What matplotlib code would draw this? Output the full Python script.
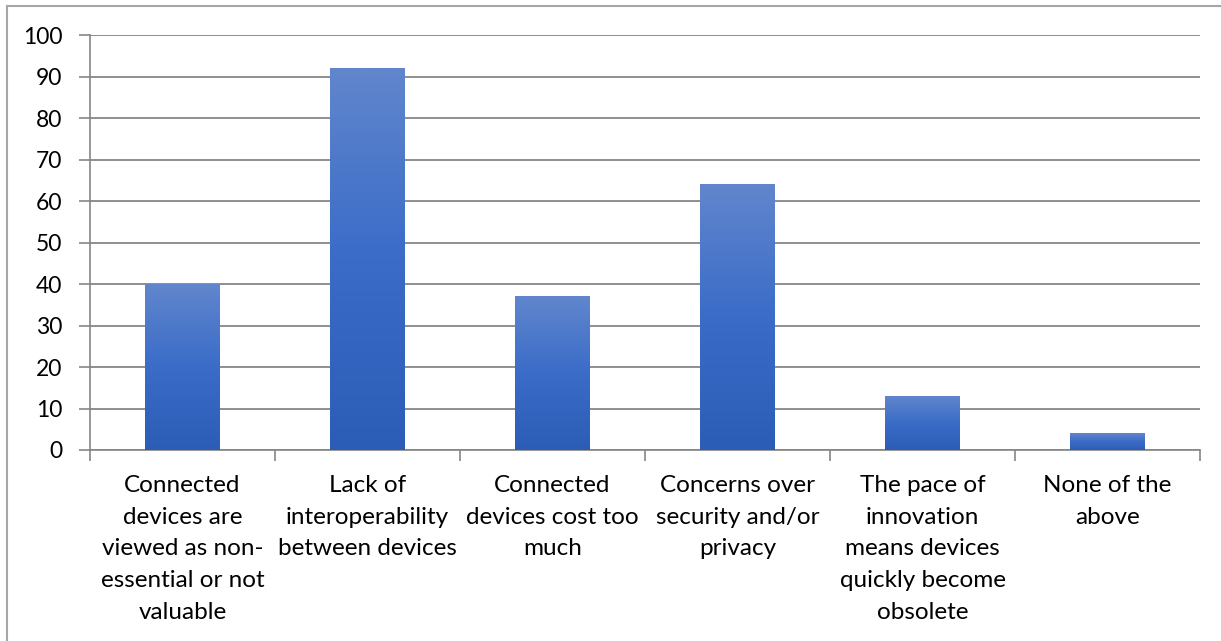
import numpy as np
import matplotlib.pyplot as plt
from matplotlib.colors import LinearSegmentedColormap
from matplotlib.lines import Line2D

plt.rcParams['font.family'] = ['Lato', 'DejaVu Sans']

categories = [
    "Connected\ndevices are\nviewed as non-\nessential or not\nvaluable",
    "Lack of\ninteroperability\nbetween devices",
    "Connected\ndevices cost too\nmuch",
    "Concerns over\nsecurity and/or\nprivacy",
    "The pace of\ninnovation\nmeans devices\nquickly become\nobsolete",
    "None of the\nabove",
]
values = [40, 92, 37, 64, 13, 4]
y_ticks = [0, 10, 20, 30, 40, 50, 60, 70, 80, 90, 100]

fig = plt.figure(figsize=(12.21, 6.41), dpi=100)
ax = fig.add_axes([90 / 1221, 191 / 641, 1110 / 1221, 415 / 641])

# chart frame around the whole figure (left and top edges visible)
fig.add_artist(Line2D([7 / 1221, 7 / 1221], [0, 1 - 6 / 641],
                      transform=fig.transFigure, color="#a6a6a6", lw=1.5))
fig.add_artist(Line2D([7 / 1221, 1], [1 - 6 / 641, 1 - 6 / 641],
                      transform=fig.transFigure, color="#a6a6a6", lw=1.5))

x = np.arange(len(values))
bars = ax.bar(x, values, width=0.405, color="none", zorder=3)

# vertical gradient fill for each bar
grad = LinearSegmentedColormap.from_list("bar", ["#2c5db6", "#3a6cc8", "#6186cd"])
g = np.linspace(0, 1, 256).reshape(-1, 1)
for b in bars:
    x0, y0 = b.get_x(), b.get_y()
    w, h = b.get_width(), b.get_height()
    im = ax.imshow(g, cmap=grad, aspect="auto", origin="lower",
                   extent=[x0, x0 + w, y0, y0 + h], zorder=3)
    im.set_clip_path(b)

ax.set_xlim(-0.5, len(values) - 0.5)
ax.set_ylim(0, 100)
ax.set_yticks(y_ticks)
ax.set_yticklabels([str(t) for t in y_ticks], fontsize=16.5)
ax.yaxis.grid(True, color="#868686", lw=1.3, zorder=0)
ax.set_axisbelow(True)

ax.set_xticks(x)
ax.set_xticklabels(categories, fontsize=17.5, linespacing=1.63)
ax.tick_params(axis="x", length=0, pad=18)
ax.tick_params(axis="y", length=8, width=1.2, color="#868686", pad=12)

# category boundary ticks below the axis
ax.set_xticks(np.arange(-0.5, len(values)), minor=True)
ax.tick_params(axis="x", which="minor", length=8, width=1.2, color="#868686")

for side in ["top", "right"]:
    ax.spines[side].set_visible(False)
ax.spines["left"].set_color("#868686")
ax.spines["bottom"].set_color("#868686")
ax.spines["left"].set_linewidth(1.2)
ax.spines["bottom"].set_linewidth(1.2)

fig.savefig("out.png", dpi=100)
